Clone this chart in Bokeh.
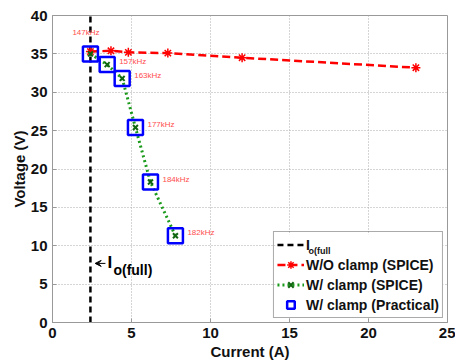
from bokeh.plotting import figure
from bokeh.models import (Legend, LegendItem, Label, Range1d, FixedTicker, Arrow, VeeHead,
                          BoxAnnotation)
from bokeh.embed import file_html
from bokeh.resources import INLINE

# Full-load output current (A)
io_full = 2.4
v_span = [0, 40]

# Without clamp (SPICE)
wo_current = [2.4, 3.7, 4.8, 7.3, 12.0, 23.0]
wo_voltage = [35.3, 35.4, 35.2, 35.1, 34.5, 33.2]

# With clamp (SPICE) and practical measurements
w_current = [2.4, 3.46, 4.41, 5.25, 6.2, 7.78]
w_voltage = [35.0, 33.6, 31.8, 25.4, 18.3, 11.3]
freq_labels = ["147kHz", "157kHz", "163kHz", "177kHz", "184kHz", "182kHz"]

x_ticks = [0, 5, 10, 15, 20, 25]
y_ticks = [0, 5, 10, 15, 20, 25, 30, 35, 40]

FONT = "Liberation Sans"

p = figure(width=455, height=364, output_backend="svg", toolbar_location=None,
           x_range=Range1d(0, 25), y_range=Range1d(0, 40),
           min_border_left=52, min_border_right=8, min_border_top=15, min_border_bottom=42)
p.background_fill_color = "white"
p.border_fill_color = "white"
p.outline_line_color = "#999999"
p.outline_line_width = 1

for ax in (p.xaxis[0], p.yaxis[0]):
    ax.major_label_text_font = FONT
    ax.major_label_text_font_style = "bold"
    ax.major_label_text_font_size = "15px"
    ax.major_label_text_color = "#111111"
    ax.axis_label_text_font = FONT
    ax.axis_label_text_font_style = "bold"
    ax.axis_label_text_font_size = "15px"
    ax.axis_label_text_color = "#111111"
    ax.axis_line_color = "#999999"
    ax.major_tick_in = 4
    ax.major_tick_out = 0
    ax.major_tick_line_color = "#999999"
    ax.minor_tick_line_color = None

p.xaxis.major_label_standoff = 5
p.xaxis.axis_label_standoff = 2
p.yaxis.major_label_standoff = 5
p.yaxis.axis_label_standoff = 0

p.xaxis.ticker = FixedTicker(ticks=x_ticks)
p.yaxis.ticker = FixedTicker(ticks=y_ticks)
p.xaxis.axis_label = "Current (A)"
p.yaxis.axis_label = "Voltage (V)"

p.grid.grid_line_color = "#aaaaaa"
p.grid.grid_line_dash = "1 2"
p.grid.grid_line_width = 1

# Vertical marker at the full-load current
r_io = p.line([io_full, io_full], v_span, line_color="black", line_width=2.5, line_dash="6 4")

# Without clamp
r_wo_line = p.line(wo_current, wo_voltage, line_color="red", line_width=2.5, line_dash="8 4")
r_wo_pts = p.scatter(wo_current, wo_voltage, marker="asterisk", size=9, line_color="red", line_width=1.5)

# With clamp (SPICE)
r_w_line = p.line(w_current, w_voltage, line_color="#1a9a1a", line_width=3, line_dash="2 3")
r_w_pts = p.scatter(w_current, w_voltage, marker="x", size=7, line_color="#116611", line_width=2)

# With clamp (practical)
r_prac = p.scatter(w_current, w_voltage, marker="square", size=15, fill_color=None,
                   line_color="#0000ff", line_width=2.5)

# Switching frequency labels
offsets_x = [-18, 12, 12, 12, 12, 12]
offsets_y = [21, 3, 3, 3, 3, 3]
for xi, yi, ti, ox, oy in zip(w_current, w_voltage, freq_labels, offsets_x, offsets_y):
    p.add_layout(Label(x=xi, y=yi, text=ti, x_offset=ox, y_offset=oy,
                       text_font=FONT, text_font_size="8px", text_color="#ff4d4d",
                       text_baseline="middle"))

# I_o(full) annotation with a small arrow pointing at the line
p.add_layout(Arrow(x_start=io_full + 0.95, y_start=7.7, x_end=io_full + 0.3, y_end=7.7,
                   line_color="black", line_width=1,
                   end=VeeHead(size=6, fill_color="black", line_color="black")))
p.add_layout(Label(x=io_full, y=7.7, text="I", x_offset=17, y_offset=1, text_font=FONT,
                   text_font_size="17px", text_font_style="bold", text_color="black",
                   text_baseline="middle"))
p.add_layout(Label(x=io_full, y=7.7, text="o(full)", x_offset=23, y_offset=-7, text_font=FONT,
                   text_font_size="14px", text_font_style="bold", text_color="black",
                   text_baseline="middle"))

# white backing for the legend (legend itself is transparent so the subscript shows)
p.add_layout(BoxAnnotation(left=14.1, right=24.75, bottom=0.6, top=11.5,
                           fill_color="white", fill_alpha=1, line_color=None))

legend = Legend(items=[
    LegendItem(label="I", renderers=[r_io]),
    LegendItem(label="W/O clamp (SPICE)", renderers=[r_wo_line, r_wo_pts]),
    LegendItem(label="W/ clamp (SPICE)", renderers=[r_w_line, r_w_pts]),
    LegendItem(label="W/ clamp (Practical)", renderers=[r_prac]),
], location="bottom_right")
legend.label_text_font = FONT
legend.label_text_font_style = "bold"
legend.label_text_font_size = "14px"
legend.label_text_color = "#111111"
legend.label_standoff = 2
legend.label_height = 19
legend.glyph_height = 19
legend.glyph_width = 27
legend.spacing = 1
legend.padding = 3
legend.margin = 4
legend.border_line_color = "#555555"
legend.border_line_width = 1.5
legend.background_fill_alpha = 0
p.add_layout(legend)

# subscript of the first legend entry
p.add_layout(Label(x=16.2, y=9.3, text="o(full",
                   text_font=FONT, text_font_size="9px", text_font_style="bold",
                   text_color="#111111", text_baseline="middle"))

open("out.html", "w").write(file_html(p, INLINE))
